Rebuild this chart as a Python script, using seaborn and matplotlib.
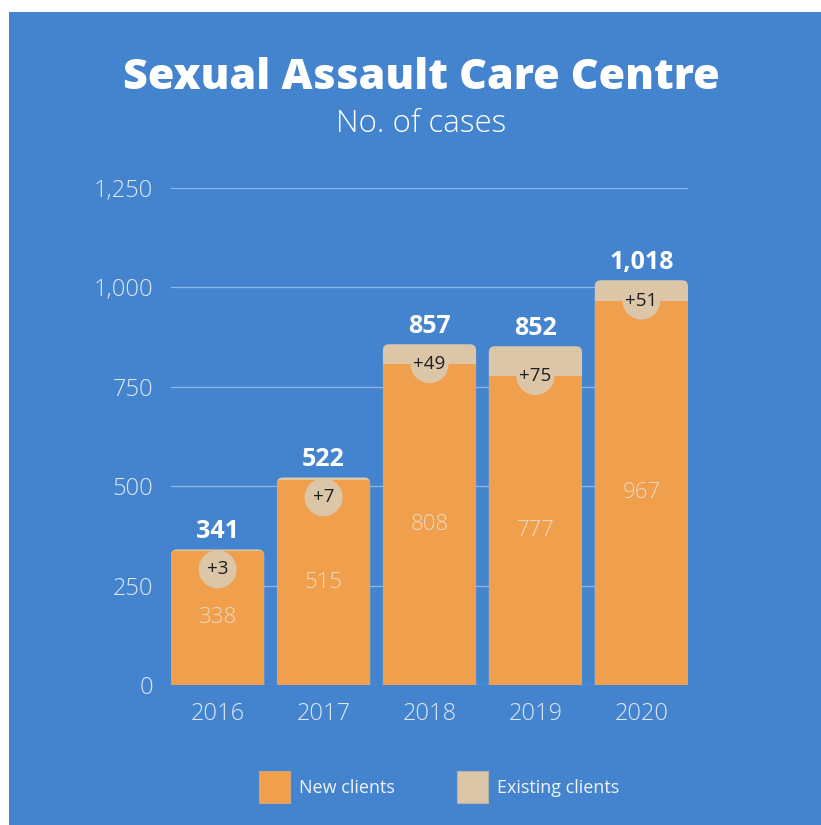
import matplotlib
matplotlib.use("Agg")
import matplotlib.pyplot as plt
import seaborn as sns
import pandas as pd
import numpy as np
from matplotlib.patches import FancyBboxPatch, Patch, Rectangle

# ---- data ----
years = ["2016", "2017", "2018", "2019", "2020"]
new_clients = [338, 515, 808, 777, 967]
existing_clients = [3, 7, 49, 75, 51]
y_ticks = [0, 250, 500, 750, 1000, 1250]
y_tick_labels = ["0", "250", "500", "750", "1,000", "1,250"]
title = "Sexual Assault Care Centre"
subtitle = "No. of cases"
legend_labels = ["New clients", "Existing clients"]

totals = [n + e for n, e in zip(new_clients, existing_clients)]
df = pd.DataFrame({"year": years, "new": new_clients, "existing": existing_clients, "total": totals})

BLUE = "#4484CE"
ORANGE = "#F0A04C"
BEIGE = "#DCC6A8"
TICKC = "#DCE6F5"
FONT = "Open Sans"

sns.set_theme(style="white")
plt.rcParams["font.family"] = [FONT, "DejaVu Sans"]

W, H = 821, 825
fig = plt.figure(figsize=(W / 100, H / 100), dpi=100, facecolor="white")
fig.patches.append(Rectangle((9 / W, 0), 1 - 9 / W, 1 - 12 / H, transform=fig.transFigure,
                             facecolor=BLUE, edgecolor="none", zorder=-10))

left, right = 171 / W, 688 / W
bottom, top = 1 - 685 / H, 1 - 188 / H
ax = fig.add_axes([left, bottom, right - left, top - bottom])
ax.set_facecolor("none")

sns.barplot(data=df, x="year", y="total", color=BEIGE, width=0.88, saturation=1, ax=ax,
            zorder=2, linewidth=0, edgecolor="none")
n_total = len(ax.patches)
sns.barplot(data=df, x="year", y="new", color=ORANGE, width=0.88, saturation=1, ax=ax,
            zorder=3, linewidth=0, edgecolor="none")

ax.set_xlim(-0.44, len(years) - 1 + 0.44)
ax.set_ylim(0, 1250)
ax.set_yticks(y_ticks)
ax.set_yticklabels(y_tick_labels)
ax.set_xlabel("")
ax.set_ylabel("")
for s in ax.spines.values():
    s.set_visible(False)
ax.grid(axis="y", color="#8FB5E3", linewidth=0.9, zorder=0)
ax.set_axisbelow(True)
ax.tick_params(axis="both", length=0, colors=TICKC, labelsize=17)
ax.tick_params(axis="y", pad=13)
ax.tick_params(axis="x", pad=12)
for lab in ax.get_xticklabels() + ax.get_yticklabels():
    lab.set_fontweight("light")

# rounded top corners
fig.canvas.draw()
px_per_x = ax.transData.transform((1, 0))[0] - ax.transData.transform((0, 0))[0]
px_per_y = ax.transData.transform((0, 1))[1] - ax.transData.transform((0, 0))[1]
aspect = px_per_x / px_per_y
rad = 6 / px_per_x
patches = list(ax.patches)
tot_patches = patches[:n_total]
new_patches = patches[n_total:]
fancies = []
for p in tot_patches:
    x, w, h = p.get_x(), p.get_width(), p.get_height()
    fb = FancyBboxPatch((x, -40), w, h + 40,
                        boxstyle=f"round,pad=0,rounding_size={rad}",
                        mutation_aspect=aspect, facecolor=BEIGE, edgecolor="none",
                        linewidth=0, zorder=2)
    ax.add_patch(fb)
    fancies.append(fb)
    p.remove()
for p, fb in zip(new_patches, fancies):
    p.set_clip_path(fb)

# labels
for i, (n, e, t) in enumerate(zip(new_clients, existing_clients, totals)):
    cy = min(n, t - 50)
    ax.scatter([i], [cy], s=(38 * 0.72) ** 2, color=BEIGE, edgecolor="none", zorder=4)
    ax.text(i, cy, f"+{e}", ha="center", va="center", fontsize=13.5, color="#1E1E1E", zorder=5)
    ax.text(i, n / 2, f"{n:,}", ha="center", va="center", fontsize=16, color="#EAD9C6",
            fontweight="light", zorder=5)
    ax.annotate(f"{t:,}", (i, t), xytext=(0, 4), textcoords="offset points",
                ha="center", va="bottom", fontsize=18, fontweight="bold", color="white", zorder=5)

fig.text(421 / W, 1 - 78 / H, title, ha="center", va="center", fontsize=31, fontweight=800, color="white")
fig.text(421 / W, 1 - 124 / H, subtitle, ha="center", va="center", fontsize=22.5, color="white",
         fontweight="light")

handles = [Patch(facecolor=ORANGE, edgecolor="#C8A57E", linewidth=0.8),
           Patch(facecolor=BEIGE, edgecolor="#B8B0A8", linewidth=0.8)]
leg = fig.legend(handles, legend_labels, loc="center", bbox_to_anchor=(439 / W, 1 - 787 / H),
                 ncol=2, frameon=False, fontsize=13, handlelength=1.75, handleheight=2.3,
                 handletextpad=0.5, columnspacing=3.4, labelcolor="#EEF3FA")

fig.savefig("out.png", dpi=100, facecolor="white")
